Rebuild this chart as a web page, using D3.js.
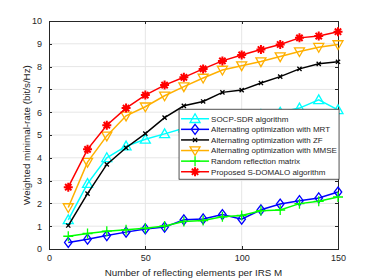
<!DOCTYPE html>
<html>
<head>
<meta charset="utf-8">
<style>
  body { margin: 0; background: #fff; }
  text { font-family: "Liberation Sans", Arial, sans-serif; fill: #262626; }
  .grid line { stroke: #e6e6e6; stroke-width: 1; }
  .axis path, .axis line { stroke: #262626; fill: none; shape-rendering: crispEdges; }
</style>
</head>
<body>
<svg width="374" height="280"></svg>
<script src="https://d3js.org/d3.v7.min.js"></script>
<script>
// data
var elements = [10, 20, 30, 40, 50, 60, 70, 80, 90, 100, 110, 120, 130, 140, 150];
var socpSdr = [1.28, 2.87, 4.0, 4.51, 4.81, 5.05, 5.3, 5.45, 5.6, 5.75, 5.9, 6.0, 6.18, 6.54, 6.1];
var aoMrt   = [0.29, 0.43, 0.59, 0.74, 0.88, 0.96, 1.28, 1.32, 1.51, 1.31, 1.72, 1.97, 2.12, 2.24, 2.5];
var aoZf    = [1.03, 2.43, 3.71, 4.44, 5.06, 5.76, 6.28, 6.47, 6.87, 6.97, 7.28, 7.56, 7.9, 8.12, 8.21];
var aoMmse  = [1.82, 3.81, 4.96, 5.84, 6.24, 6.72, 7.12, 7.5, 7.85, 8.04, 8.22, 8.44, 8.66, 8.85, 8.97];
var randomRefl = [0.56, 0.68, 0.78, 0.84, 0.91, 1.01, 1.21, 1.25, 1.41, 1.47, 1.68, 1.71, 1.99, 2.09, 2.28];
var sDomalo = [2.71, 4.37, 5.43, 6.18, 6.75, 7.19, 7.53, 7.9, 8.25, 8.51, 8.75, 8.97, 9.26, 9.34, 9.53];

var xTicks = [0, 50, 100, 150];
var yTicks = [0, 1, 2, 3, 4, 5, 6, 7, 8, 9, 10];

var series = [
  {name: "SOCP-SDR algorithm", values: socpSdr, color: "#00ffff", marker: "triUp"},
  {name: "Alternating optimization with MRT", values: aoMrt, color: "#0000ff", marker: "diamond"},
  {name: "Alternating optimization with ZF", values: aoZf, color: "#000000", marker: "cross"},
  {name: "Alternating optimization with MMSE", values: aoMmse, color: "#ffb000", marker: "triDown"},
  {name: "Random reflection matrix", values: randomRefl, color: "#00ff00", marker: "plus"},
  {name: "Proposed S-DOMALO algorithm", values: sDomalo, color: "#ff0000", marker: "star"}
];

var margin = {top: 21, right: 36, bottom: 31, left: 49},
    width = 374 - margin.left - margin.right,
    height = 280 - margin.top - margin.bottom;

var x = d3.scaleLinear().domain([0, 150]).range([0, width]);
var y = d3.scaleLinear().domain([0, 10]).range([height, 0]);

var svg = d3.select("svg").append("g")
    .attr("transform", "translate(" + margin.left + "," + margin.top + ")");

// grid
var grid = svg.append("g").attr("class", "grid");
grid.selectAll(".gx").data(xTicks.slice(1, -1)).enter().append("line")
    .attr("x1", function(d) { return x(d); }).attr("x2", function(d) { return x(d); })
    .attr("y1", 0).attr("y2", height);
grid.selectAll(".gy").data(yTicks.slice(1, -1)).enter().append("line")
    .attr("y1", function(d) { return y(d); }).attr("y2", function(d) { return y(d); })
    .attr("x1", 0).attr("x2", width);

// axes (box, ticks inward)
svg.append("g").attr("class", "axis")
    .attr("transform", "translate(0," + height + ")")
    .call(d3.axisBottom(x).tickValues(xTicks).tickSizeInner(-3).tickSizeOuter(0).tickPadding(6));
svg.append("g").attr("class", "axis")
    .call(d3.axisTop(x).tickValues(xTicks).tickSizeInner(-3).tickSizeOuter(0).tickFormat(""));
svg.append("g").attr("class", "axis")
    .call(d3.axisLeft(y).tickValues(yTicks).tickSizeInner(-3).tickSizeOuter(0).tickPadding(7));
svg.append("g").attr("class", "axis")
    .attr("transform", "translate(" + width + ",0)")
    .call(d3.axisRight(y).tickValues(yTicks).tickSizeInner(-3).tickSizeOuter(0).tickFormat(""));
svg.selectAll(".axis text").style("font-size", "9px").attr("fill", "#262626");

// marker shapes
function markerPath(type, s) {
  var h = s / 2;
  switch (type) {
    case "triUp": return "M0," + (-h) + "L" + h + "," + (h * 0.75) + "L" + (-h) + "," + (h * 0.75) + "Z";
    case "triDown": return "M0," + h + "L" + h + "," + (-h * 0.75) + "L" + (-h) + "," + (-h * 0.75) + "Z";
    case "diamond": return "M0," + (-h) + "L" + (h * 0.75) + ",0L0," + h + "L" + (-h * 0.75) + ",0Z";
    case "cross": var c = h * 0.7; return "M" + (-c) + "," + (-c) + "L" + c + "," + c + "M" + (-c) + "," + c + "L" + c + "," + (-c);
    case "plus": return "M" + (-h) + ",0L" + h + ",0M0," + (-h) + "L0," + h;
    case "star": var c2 = h * 0.7;
      return "M" + (-h) + ",0L" + h + ",0M0," + (-h) + "L0," + h +
             "M" + (-c2) + "," + (-c2) + "L" + c2 + "," + c2 + "M" + (-c2) + "," + c2 + "L" + c2 + "," + (-c2);
  }
}
var markerSize = {triUp: 10, triDown: 10, diamond: 10, cross: 6, plus: 10, star: 9};

var line = d3.line()
    .x(function(d, i) { return x(elements[i]); })
    .y(function(d) { return y(d); });

series.forEach(function(s) {
  svg.append("path")
      .attr("d", line(s.values))
      .attr("fill", "none")
      .attr("stroke", s.color)
      .attr("stroke-width", 1.5);
  svg.selectAll(null).data(s.values).enter().append("path")
      .attr("transform", function(d, i) { return "translate(" + x(elements[i]) + "," + y(d) + ")"; })
      .attr("d", markerPath(s.marker, markerSize[s.marker]))
      .attr("fill", "none")
      .attr("stroke", s.color)
      .attr("stroke-width", s.marker == "star" ? 2 : 1.3);
});

// legend
var lg = svg.append("g").attr("transform", "translate(" + (x(67.5)) + "," + (y(6.13)) + ")");
lg.append("rect")
    .attr("width", 160).attr("height", 70)
    .attr("fill", "#fff").attr("stroke", "#262626").attr("stroke-width", 0.8);
series.forEach(function(s, i) {
  var row = lg.append("g").attr("transform", "translate(0," + (9.5 + i * 10.6) + ")");
  row.append("line").attr("x1", 2).attr("x2", 30).attr("stroke", s.color).attr("stroke-width", 1.5);
  row.append("path").attr("transform", "translate(16,0)")
      .attr("d", markerPath(s.marker, markerSize[s.marker]))
      .attr("fill", "none").attr("stroke", s.color)
      .attr("stroke-width", s.marker == "star" ? 2 : 1.3);
  row.append("text").attr("x", 32).attr("dy", "0.35em")
      .style("font-size", "8px").text(s.name);
});

// axis labels
svg.append("text")
    .attr("x", width / 2).attr("y", height + 27)
    .attr("text-anchor", "middle").style("font-size", "9.8px")
    .text("Number of reflecting elements per IRS M");
svg.append("text")
    .attr("transform", "translate(-19," + (height / 2) + ") rotate(-90)")
    .attr("text-anchor", "middle").style("font-size", "9.8px")
    .text("Weighted minimal-rate (bit/s/Hz)");
</script>
</body>
</html>
